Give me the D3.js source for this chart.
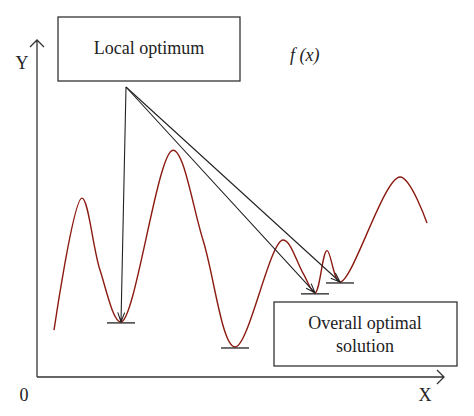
<!DOCTYPE html>
<html><head><meta charset="utf-8">
<script src="https://cdn.jsdelivr.net/npm/d3@7"></script>
<style>body{margin:0;background:#fff}</style>
</head><body><svg id="c" width="474" height="416"></svg>
<script>
// curve f(x), in data units (0..100)
var curveX = [4, 11, 15.5, 20.75, 33.75, 41.25, 49.25, 61.25, 66.25, 69.25, 72.25, 75.5, 90.5, 97.25]
var curveY = [14.5, 54.5, 32.7, 17, 69, 41.8, 9.4, 41.8, 31.8, 25.8, 38.6, 29.1, 60.9, 47]
// minima marked with a bar
var minX = [20.75, 49.25, 69.25, 75.5]
var minY = [17, 9.4, 25.8, 29.1]
// minima pointed to by the arrows from the box
var arrowTo = [0, 2, 3]

var FONT = "'Liberation Serif', 'DejaVu Serif', 'Times New Roman', serif"
var svg = d3.select("#c")
var x = d3.scaleLinear().domain([0, 100]).range([38, 438])
var y = d3.scaleLinear().domain([0, 100]).range([378, 48])

function label(tx, ty, s, anchor, italic) {
  return svg.append("text").attr("x", tx).attr("y", ty).attr("font-size", 18)
    .attr("font-family", FONT).attr("fill", "#222")
    .attr("text-anchor", anchor).attr("font-style", italic ? "italic" : "normal").text(s)
}

// axes
svg.append("path").attr("d", "M37,377H444M437,370l7,7l-7,7M37,377V40M30,47l7,-7l7,7")
  .attr("fill", "none").attr("stroke", "#333").attr("stroke-width", 1.3)
label(24, 401, "0", "middle")
label(425, 401, "X", "middle")
label(22, 69, "Y", "middle")
label(290, 61, "f (x)", "start", true)

// the curve
var line = d3.line().x(d => x(d[0])).y(d => y(d[1])).curve(d3.curveCatmullRom.alpha(0.5))
svg.append("path").datum(d3.zip(curveX, curveY)).attr("d", line)
  .attr("fill", "none").attr("stroke", "#8b1a10").attr("stroke-width", 1.4)

// bars under the minima
minX.forEach(function(v, i) {
  svg.append("line").attr("x1", x(v) - 14).attr("x2", x(v) + 14)
    .attr("y1", y(minY[i]) + 1).attr("y2", y(minY[i]) + 1)
    .attr("stroke", "#222").attr("stroke-width", 1.3)
})

// arrows
var ox = 126, oy = 87
arrowTo.forEach(function(i) {
  var tx = x(minX[i]), ty = y(minY[i])
  var a = Math.atan2(ty - oy, tx - ox), h = 10, s = 0.35
  svg.append("path")
    .attr("d", "M" + ox + "," + oy + "L" + tx + "," + ty +
      "M" + (tx - h * Math.cos(a - s)) + "," + (ty - h * Math.sin(a - s)) + "L" + tx + "," + ty +
      "L" + (tx - h * Math.cos(a + s)) + "," + (ty - h * Math.sin(a + s)))
    .attr("fill", "none").attr("stroke", "#222").attr("stroke-width", 1.1)
})

// boxes
svg.append("rect").attr("x", 58).attr("y", 17).attr("width", 182).attr("height", 64)
  .attr("fill", "#fff").attr("stroke", "#333").attr("stroke-width", 1.3)
label(149, 54, "Local optimum", "middle")
svg.append("rect").attr("x", 274).attr("y", 302).attr("width", 183).attr("height", 64)
  .attr("fill", "#fff").attr("stroke", "#333").attr("stroke-width", 1.3)
label(365, 329, "Overall optimal", "middle")
label(365, 352, "solution", "middle")
</script></body></html>
